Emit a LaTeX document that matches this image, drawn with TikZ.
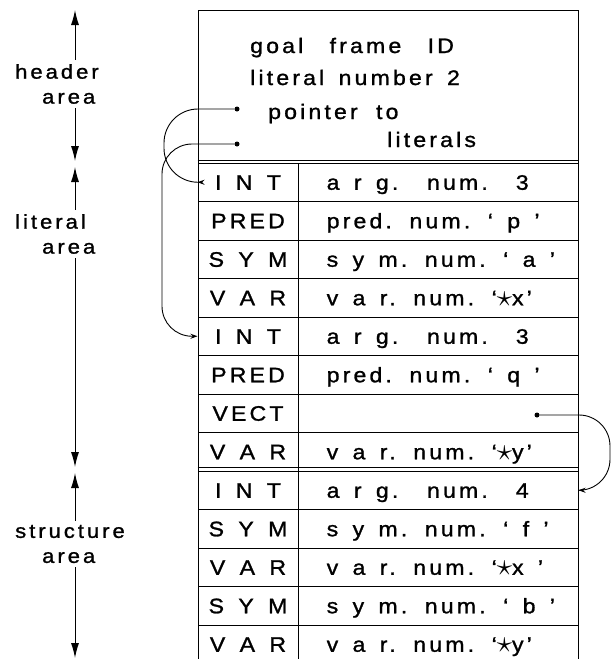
\documentclass[tikz,border=0pt]{standalone}
\usepackage{fontspec}
\setmainfont{Liberation Sans}[FakeStretch=1.1,LetterSpace=15,FakeBold=1.2,WordSpace=1.5]
\usetikzlibrary{arrows.meta}

\newcommand{\vstar}{\raisebox{-0.05em}{\scalebox{1.5}{$\star$}}}

\begin{document}
\begin{tikzpicture}[
    x=1pt, y=-1pt,
    font=\fontsize{21}{25}\selectfont,
    cell/.style={rectangle, draw, line width=1pt, minimum height=38.5pt, inner sep=0pt},
    tagcell/.style={cell, minimum width=100pt, text height=15pt, text depth=0pt},
    valcell/.style={cell, minimum width=280pt},
    valtext/.style={anchor=west, inner sep=3pt, text height=15pt, text depth=0pt},
    hdrtext/.style={anchor=base west, inner sep=0pt},
    arealbl/.style={anchor=west, align=left, inner sep=4pt, font=\fontsize{20}{25}\selectfont},
    dim/.style={-{Latex[length=15pt,width=8pt]}, line width=1pt},
    ptr/.style={-{Stealth[length=7pt,width=5pt]}, line width=0.9pt},
    dot/.style={circle, fill, inner sep=0pt, minimum size=5pt},
  ]
  \useasboundingbox (0,0) rectangle (612,659);

  % Header area of the goal frame
  \node[cell, minimum width=380pt, minimum height=153pt] (hdr) at (388,86.5) {};
  \draw[line width=1pt] ([yshift=3.5pt]hdr.south west) -- ([yshift=3.5pt]hdr.south east);
  \node[hdrtext] (goal) at (250,53) {goal\hspace{12pt} frame\hspace{12pt} ID};
  \node[hdrtext] (litnum) at (250,85) {literal number 2};
  \node[hdrtext] (ptrto) at (268,119) {pointer\hspace{4pt} to};
  \node[hdrtext] (lits) at (387,147) {literals};
  \node[dot] (p1) at (237,109) {};
  \node[dot] (p2) at (237,144) {};

  % Literal and structure rows
  \foreach \tg/\vl [count=\i] in {
      I N T/a r g.\ \ num.\hspace{28pt}3,
      PRED/pred. num. ‘ p ’,
      S Y M/s y m. num. ‘ a ’,
      V A R/v a r. num. ‘\vstar x’,
      I N T/a r g.\ \ num.\hspace{28pt}3,
      PRED/pred. num. ‘ q ’,
      VECT/{},
      V A R/v a r. num. ‘\vstar y’,
      I N T/a r g.\ \ num.\hspace{28pt}4,
      S Y M/s y m. num. ‘ f ’,
      V A R/v a r. num. ‘\vstar x ’,
      S Y M/s y m. num. ‘ b ’,
      V A R/v a r. num. ‘\vstar y’} {
    \pgfmathsetmacro{\yy}{143.75+38.5*\i}
    \node[tagcell] (t\i) at (248,\yy) {\tg};
    \node[valcell] (v\i) at (438,\yy) {};
    \node[valtext] (w\i) at ([xshift=26pt]v\i.west) {\vl};
  }
  \draw[line width=1pt] ([yshift=3.5pt]t9.north west) -- ([yshift=3.5pt]v9.north east);
  \node[dot] (vd) at (537,415) {};

  % Pointers
  \draw[ptr, rounded corners=34pt] (p1) -- ++(-73,0) |- (t1.west);
  \draw[ptr, rounded corners=30pt] (p2) -- ++(-75,0) |- (t5.west);
  \draw[ptr, rounded corners=31pt] (vd) -- ++(73,0) |- (v9.east);

  % Area markers
  \node[arealbl] (hdrlbl) at (11,84) {header\\\hspace*{27pt}area};
  \coordinate (hdrtop) at (75,10);
  \coordinate (hdrbot) at (75,161);
  \draw[dim] (hdrlbl.north -| hdrtop) -- (hdrtop);
  \draw[dim] (hdrlbl.south -| hdrbot) -- (hdrbot);

  \node[arealbl] (litlbl) at (11,234) {literal\\\hspace*{27pt}area};
  \coordinate (littop) at (75,167);
  \coordinate (litbot) at (75,467);
  \draw[dim] (litlbl.north -| littop) -- (littop);
  \draw[dim] (litlbl.south -| litbot) -- (litbot);

  \node[arealbl] (strlbl) at (11,544) {structure\\\hspace*{27pt}area};
  \coordinate (strtop) at (75,473);
  \coordinate (strbot) at (75,658);
  \draw[dim] (strlbl.north -| strtop) -- (strtop);
  \draw[dim] (strlbl.south -| strbot) -- (strbot);
\end{tikzpicture}
\end{document}
